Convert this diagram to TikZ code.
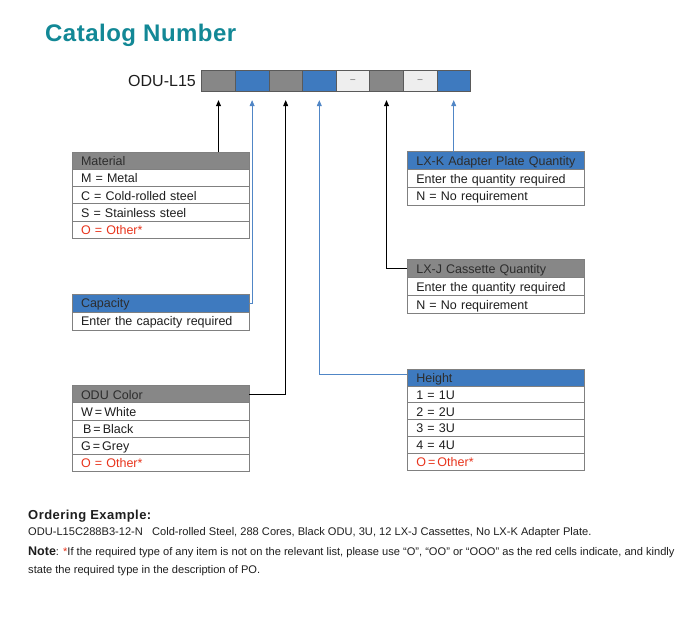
\documentclass[tikz,border=0pt]{standalone}
\usepackage{fontspec}
\setmainfont{Liberation Sans}
\usetikzlibrary{arrows.meta}
\definecolor{teal1}{RGB}{18,136,150}
\definecolor{cgray}{RGB}{135,135,135}
\definecolor{cblue}{RGB}{62,122,191}
\definecolor{clight}{RGB}{238,238,238}
\definecolor{cline}{RGB}{90,90,90}
\definecolor{tline}{RGB}{128,128,128}
\definecolor{ared}{RGB}{232,52,28}
\definecolor{ablue}{RGB}{80,134,198}
\definecolor{txt}{RGB}{30,30,30}
\definecolor{htxt}{RGB}{45,45,45}
\newcommand\fsz[1]{\fontsize{#1pt}{#1pt}\selectfont}
\tikzset{
  cell/.style={draw=cline, line width=0.8pt, minimum width=33.6pt, minimum height=21.7pt, inner sep=0pt, outer sep=0pt, anchor=north west},
  tbl/.style={draw=tline, line width=0.8pt, anchor=north west, outer sep=0pt, minimum width=177pt, text width=159pt, inner xsep=9pt, inner ysep=0pt, align=left, font=\fsz{12.5}, text=txt, minimum height=#1, text height=10.3pt, text depth=0.7pt},
  hdr/.style={fill=#1, text=htxt},
  redtxt/.style={text=ared},
  blackarr/.style={draw=black, line width=0.7pt, -{Triangle[width=5pt,length=6pt]}},
  bluearr/.style={draw=ablue, line width=0.7pt, -{Triangle[width=5pt,length=6pt]}},
}
\begin{document}
\begin{tikzpicture}[x=1pt,y=-1pt]
\useasboundingbox[fill=white] (0,0) rectangle (700,617);
% title
\node[anchor=base west, inner sep=0pt, text=teal1, font=\fsz{24}\bfseries\addfontfeatures{LetterSpace=2}] (title) at (45,42) {Catalog Number};
% catalog cells
\node[anchor=base east, inner sep=0pt, font=\fsz{16}, text=txt] (pre) at (196,87) {ODU-L15};
\node[cell, fill=cgray] (c1) at (201.7,70) {};
\node[cell, fill=cblue] (c2) at (c1.north east) {};
\node[cell, fill=cgray] (c3) at (c2.north east) {};
\node[cell, fill=cblue] (c4) at (c3.north east) {};
\node[cell, fill=clight, font=\fsz{9}, text=cline] (c5) at (c4.north east) {--};
\node[cell, fill=cgray] (c6) at (c5.north east) {};
\node[cell, fill=clight, font=\fsz{9}, text=cline] (c7) at (c6.north east) {--};
\node[cell, fill=cblue] (c8) at (c7.north east) {};
\coordinate (t1) at ([yshift=-8.5pt]c1.south);
\coordinate (t2) at ([yshift=-8.5pt]c2.south);
\coordinate (t3) at ([yshift=-8.5pt]c3.south);
\coordinate (t4) at ([yshift=-8.5pt]c4.south);
\coordinate (t6) at ([yshift=-8.5pt]c6.south);
\coordinate (t8) at ([yshift=-8.5pt]c8.south);
% Material
\node[tbl=17.2pt, hdr=cgray] (matH) at (72,152.3) {Material};
\node[tbl=17.2pt] (m1) at (matH.south west) {M = Metal};
\node[tbl=17.2pt] (m2) at (m1.south west) {C = Cold-rolled steel};
\node[tbl=17.2pt] (m3) at (m2.south west) {S = Stainless steel};
\node[tbl=17.2pt, redtxt] (m4) at (m3.south west) {O = Other*};
% Capacity
\node[tbl=18pt, hdr=cblue] (capH) at (72,294) {Capacity};
\node[tbl=18pt] (cp1) at (capH.south west) {Enter the capacity required};
% ODU Color
\node[tbl=17.1pt, hdr=cgray] (oduH) at (72,385.7) {ODU Color};
\node[tbl=17.1pt] (o1) at (oduH.south west) {W\,=\,White};
\node[tbl=17.1pt] (o2) at (o1.south west) {\,B\,=\,Black};
\node[tbl=17.1pt] (o3) at (o2.south west) {G\,=\,Grey};
\node[tbl=17.1pt, redtxt] (o4) at (o3.south west) {O = Other*};
% LX-K
\node[tbl=17.8pt, hdr=cblue] (lxkH) at (407.3,151.7) {\mbox{LX-K Adapter Plate Quantity}};
\node[tbl=17.8pt] (k1) at (lxkH.south west) {Enter the quantity required};
\node[tbl=17.8pt] (k2) at (k1.south west) {N = No requirement};
% LX-J
\node[tbl=18pt, hdr=cgray] (lxjH) at (407.3,259.3) {LX-J Cassette Quantity};
\node[tbl=18pt] (j1) at (lxjH.south west) {Enter the quantity required};
\node[tbl=18pt] (j2) at (j1.south west) {N = No requirement};
% Height
\node[tbl=16.9pt, hdr=cblue] (hH) at (407.3,369) {Height};
\node[tbl=16.9pt] (h1) at (hH.south west) {1 = 1U};
\node[tbl=16.9pt] (h2) at (h1.south west) {2 = 2U};
\node[tbl=16.9pt] (h3) at (h2.south west) {3 = 3U};
\node[tbl=16.9pt] (h4) at (h3.south west) {4 = 4U};
\node[tbl=16.9pt, redtxt] (h5) at (h4.south west) {O\,=\,Other*};
% connectors
\draw[blackarr] (matH.north -| t1) -- (t1);
\draw[bluearr] (capH.east) -| (t2);
\draw[blackarr] (oduH.east) -| (t3);
\draw[bluearr] ([yshift=3.5pt]hH.west) -| (t4);
\draw[blackarr] (lxjH.west) -| (t6);
\draw[bluearr] (lxkH.north -| t8) -- (t8);
% bottom texts
\node[anchor=base west, inner sep=0pt, font=\fsz{13}\bfseries\addfontfeatures{LetterSpace=3.5}, text=txt] (ord) at (28,519) {Ordering Example:};
\node[anchor=base west, inner sep=0pt, font=\fsz{11.1}, text=txt] (ex) at (28,535) {ODU-L15C288B3-12-N\ \ \ Cold-rolled Steel, 288 Cores, Black ODU, 3U, 12 LX-J Cassettes, No LX-K Adapter Plate.};
\node[anchor=base west, inner sep=0pt, font=\fsz{11.1}, text=txt] (note) at (28,555) {{\fsz{12.5}\bfseries Note}: {\color{ared}*}If the required type of any item is not on the relevant list, please use “O”, “OO” or “OOO” as the red cells indicate, and kindly};
\node[anchor=base west, inner sep=0pt, font=\fsz{11.1}, text=txt] (note2) at (28,573) {state the required type in the description of PO.};
\end{tikzpicture}
\end{document}
